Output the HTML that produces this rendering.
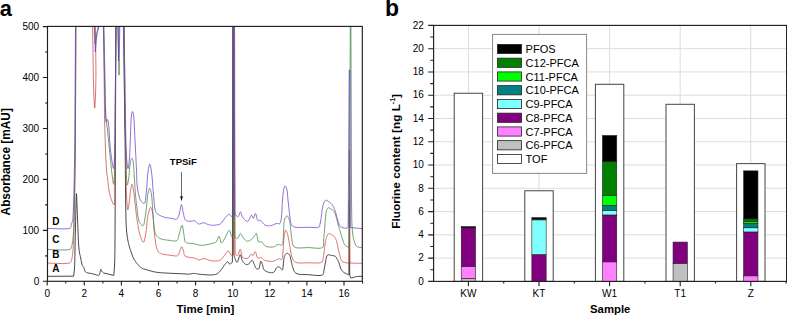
<!DOCTYPE html><html><head><meta charset="utf-8"><style>html,body{margin:0;padding:0;background:#fff;}svg{display:block;}text{font-family:"Liberation Sans",sans-serif;}</style></head><body>
<svg width="787" height="315" viewBox="0 0 787 315">
<rect width="787" height="315" fill="#fff"/>
<text x="-0.3" y="15.9" font-size="21.8" font-weight="bold">a</text>
<text x="384.9" y="15.9" font-size="23" font-weight="bold">b</text>
<defs><clipPath id="lc"><rect x="47.5" y="26.4" width="314.8" height="254.9"/></clipPath></defs>
<g clip-path="url(#lc)" fill="none" stroke-linejoin="round">
<polyline points="47.5,276.3 73.6,276.2 74.4,270 74.61,266.33 74.77,261.76 74.89,256.55 74.99,251.01 75.09,245.39 75.2,240 75.34,234.1 75.48,227.83 75.61,221.48 75.75,215.36 75.87,209.77 76,205 76.07,202.46 76.13,199.85 76.19,197.42 76.25,195.4 76.32,194.01 76.4,193.5 76.49,194.07 76.59,195.57 76.69,197.72 76.8,200.2 76.9,202.73 77,205 77.1,207.33 77.19,209.66 77.28,212.05 77.38,214.55 77.48,217.18 77.6,220 77.78,224.63 77.97,229.95 78.17,235.56 78.42,241.05 78.72,246 79.1,250 79.33,251.64 79.59,253.07 79.86,254.36 80.14,255.56 80.42,256.76 80.7,258 80.95,259.25 81.19,260.54 81.43,261.82 81.68,263.04 81.97,264.15 82.3,265.1 82.54,265.6 82.81,266.02 83.09,266.4 83.37,266.76 83.64,267.15 83.9,267.6 84.15,268.27 84.33,269.03 84.51,269.82 84.72,270.6 85.03,271.31 85.5,271.9 86.36,272.45 87.46,272.85 88.72,273.13 90.05,273.35 91.37,273.56 92.6,273.8 93.75,274.12 94.97,274.51 96.19,274.88 97.31,275.16 98.28,275.26 99,275.1 99.31,274.83 99.53,274.45 99.67,273.99 99.77,273.49 99.87,272.98 100,272.5 100.16,271.93 100.3,271.27 100.44,270.6 100.58,270 100.73,269.57 100.9,269.4 101.06,269.5 101.22,269.8 101.39,270.21 101.57,270.68 101.77,271.13 102,271.5 102.24,271.79 102.48,272.05 102.74,272.3 103.03,272.54 103.38,272.77 103.8,273 113.8,275.4 114.6,265 114.82,257.75 114.95,248.62 115.03,237.94 115.08,226.05 115.13,213.29 115.2,200 115.9,26.4 123.8,26.4 124.6,100 124.7,108.84 124.81,117.21 124.91,125.32 125.01,133.35 125.1,141.51 125.2,150 125.29,160.06 125.38,170.79 125.46,181.67 125.54,192.18 125.66,201.8 125.8,210 125.88,214.02 125.96,217.68 126.04,221.05 126.15,224.17 126.29,227.14 126.5,230 126.7,232.08 126.93,234.07 127.18,235.98 127.45,237.78 127.72,239.46 128,241 128.18,241.94 128.36,242.79 128.55,243.58 128.75,244.35 128.96,245.15 129.2,246 129.53,247.11 129.89,248.27 130.27,249.47 130.68,250.67 131.09,251.86 131.5,253 131.87,254.04 132.24,255.08 132.62,256.11 133.02,257.11 133.44,258.07 133.9,259 134.35,259.81 134.82,260.58 135.32,261.33 135.84,262.06 136.4,262.78 137,263.5 137.72,264.34 138.49,265.2 139.31,266.06 140.16,266.87 141.02,267.6 141.9,268.2 142.65,268.6 143.4,268.9 144.16,269.14 144.95,269.34 145.8,269.55 146.7,269.8 148.08,270.2 149.57,270.64 151.15,271.08 152.8,271.5 154.49,271.88 156.2,272.2 158.21,272.48 160.3,272.69 162.45,272.85 164.62,272.97 166.78,273.08 168.9,273.2 170.95,273.31 173.02,273.4 175.08,273.48 177.1,273.55 179.05,273.62 180.9,273.7 182.33,273.78 183.71,273.88 185.04,273.98 186.33,274.07 187.58,274.11 188.8,274.1 189.8,274.02 190.77,273.88 191.72,273.71 192.64,273.55 193.53,273.43 194.4,273.4 195.08,273.45 195.69,273.55 196.29,273.69 196.91,273.84 197.6,273.98 198.4,274.1 200.35,274.31 202.77,274.55 205.43,274.76 208.11,274.92 210.57,274.98 212.6,274.9 213.57,274.8 214.44,274.69 215.23,274.54 215.98,274.34 216.69,274.07 217.4,273.7 218.15,273.17 218.86,272.51 219.53,271.76 220.17,270.97 220.79,270.17 221.4,269.4 221.97,268.66 222.52,267.89 223.05,267.11 223.56,266.35 224.05,265.63 224.5,265 224.79,264.61 225.06,264.25 225.32,263.91 225.57,263.59 225.83,263.29 226.1,263 226.34,262.73 226.59,262.43 226.84,262.14 227.09,261.91 227.35,261.75 227.6,261.7 227.91,261.88 228.21,262.29 228.52,262.81 228.83,263.35 229.16,263.78 229.5,264 229.83,264 230.18,263.88 230.54,263.69 230.89,263.46 231.22,263.22 231.5,263 231.68,262.87 231.85,262.77 231.99,262.66 232.13,262.52 232.26,262.31 232.4,262 232.8,26.4 233.2,26.4 233.9,254 234.09,255.29 234.27,256.28 234.47,257.06 234.68,257.71 234.92,258.33 235.2,259 235.47,259.68 235.77,260.42 236.09,261.14 236.42,261.74 236.76,262.16 237.1,262.3 237.62,261.71 238.17,260.29 238.74,258.46 239.29,256.64 239.82,255.25 240.3,254.7 240.64,255.02 240.93,255.83 241.19,256.95 241.47,258.2 241.79,259.41 242.2,260.4 242.65,261.16 243.14,261.91 243.67,262.63 244.24,263.28 244.82,263.82 245.4,264.2 245.85,264.39 246.31,264.53 246.78,264.6 247.26,264.6 247.73,264.54 248.2,264.4 248.87,263.92 249.56,263.11 250.24,262.15 250.91,261.26 251.53,260.61 252.1,260.4 252.58,260.69 253.02,261.34 253.42,262.22 253.79,263.21 254.15,264.18 254.5,265 254.77,265.63 255.01,266.27 255.23,266.9 255.47,267.49 255.75,268 256.1,268.4 256.45,268.67 256.86,268.9 257.29,269.09 257.72,269.2 258.13,269.21 258.5,269.1 259.05,268.29 259.49,266.77 259.87,264.92 260.21,263.12 260.54,261.75 260.9,261.2 261.17,261.38 261.45,261.87 261.71,262.58 261.98,263.4 262.24,264.24 262.5,265 262.74,265.81 262.94,266.68 263.12,267.56 263.35,268.43 263.66,269.22 264.1,269.9 264.7,270.48 265.42,270.98 266.23,271.41 267.09,271.78 267.96,272.07 268.8,272.3 269.6,272.48 270.44,272.62 271.29,272.7 272.12,272.69 272.9,272.57 273.6,272.3 274.25,271.75 274.81,270.94 275.31,269.99 275.78,269.04 276.27,268.2 276.8,267.6 277.17,267.33 277.55,267.1 277.94,266.92 278.32,266.81 278.71,266.76 279.1,266.8 279.65,267.13 280.23,267.76 280.82,268.53 281.38,269.26 281.88,269.77 282.3,269.9 282.7,269.37 282.96,268.26 283.11,266.76 283.22,265.08 283.33,263.43 283.5,262 283.66,260.85 283.8,259.68 283.94,258.52 284.11,257.43 284.35,256.44 284.7,255.6 285.02,255.06 285.4,254.54 285.81,254.07 286.24,253.69 286.67,253.42 287.1,253.3 287.5,253.34 287.93,253.5 288.36,253.76 288.78,254.1 289.16,254.49 289.5,254.9 289.87,255.55 290.15,256.32 290.38,257.19 290.58,258.12 290.78,259.07 291,260 291.26,261.08 291.48,262.21 291.71,263.37 291.95,264.54 292.24,265.69 292.6,266.8 292.98,267.93 293.35,269.1 293.77,270.26 294.28,271.34 294.94,272.31 295.8,273.1 297.35,273.84 299.29,274.28 301.5,274.49 303.85,274.57 306.23,274.61 308.5,274.7 311.01,274.92 313.77,275.21 316.56,275.45 319.15,275.52 321.3,275.31 322.8,274.7 323.31,274.13 323.59,273.42 323.74,272.61 323.81,271.75 323.87,270.87 324,270 324.2,269 324.39,267.98 324.56,266.92 324.75,265.84 324.96,264.73 325.2,263.6 325.5,262.09 325.78,260.36 326.1,258.6 326.49,256.98 326.97,255.69 327.6,254.9 328.05,254.72 328.55,254.71 329.08,254.81 329.64,254.98 330.22,255.16 330.8,255.3 331.57,255.42 332.42,255.53 333.29,255.65 334.13,255.83 334.89,256.07 335.5,256.4 335.86,256.74 336.14,257.15 336.37,257.59 336.57,258.06 336.77,258.54 337,259 337.28,259.47 337.55,259.92 337.83,260.38 338.12,260.86 338.4,261.4 338.7,262 339.17,263.24 339.61,264.74 340.07,266.38 340.58,268.01 341.17,269.5 341.9,270.7 342.6,271.45 343.41,272.11 344.27,272.67 345.14,273.16 345.97,273.56 346.7,273.9 347.11,274.11 347.5,274.33 347.88,274.52 348.24,274.64 348.58,274.65 348.9,274.5 349.3,200 349.7,275 350.6,277.9 351.24,278.03 352.08,277.88 353.06,277.57 354.12,277.19 355.19,276.83 356.2,276.6 357.34,276.48 358.66,276.4 359.99,276.35 361.16,276.32 361.99,276.3 362.3,276.3" stroke="#262626" stroke-width="0.85"/>
<polyline points="47.5,263 48.92,263.09 52.54,263.27 57.39,263.46 62.48,263.55 66.84,263.43 69.5,263 69.9,262.81 70.21,262.6 70.44,262.37 70.63,262.12 70.81,261.83 71,261.5 71.28,260.93 71.51,260.26 71.7,259.52 71.88,258.72 72.04,257.88 72.2,257 72.42,255.71 72.61,254.33 72.77,252.86 72.93,251.31 73.07,249.69 73.2,248 73.36,245.66 73.49,243.21 73.61,240.63 73.71,237.91 73.8,235.04 73.9,232 74.04,227.38 74.16,222.41 74.28,217.13 74.39,211.6 74.49,205.87 74.6,200 74.73,192.57 74.86,184.98 74.97,177.09 75.09,168.73 75.2,159.75 75.3,150 76,26.4 92.6,26.4 93.4,80 93.58,85.87 93.79,92.16 94.02,98.19 94.25,103.31 94.48,106.87 94.7,108.2 94.92,106.77 95.16,103.01 95.39,97.68 95.61,91.55 95.78,85.4 95.9,80 95.95,75.01 95.95,69.94 95.9,64.83 95.83,59.77 95.76,54.8 95.7,50 95.4,26.4 103.5,26.4 104.6,120 104.85,129.73 105.13,139.41 105.44,148.66 105.77,157.09 106.12,164.33 106.5,170 106.66,171.71 106.81,173.09 106.97,174.28 107.14,175.41 107.32,176.61 107.5,178 107.75,180.23 108.01,182.7 108.28,185.29 108.58,187.87 108.91,190.32 109.3,192.5 109.61,193.92 109.95,195.26 110.3,196.52 110.68,197.72 111.08,198.88 111.5,200 111.9,201.03 112.34,202.16 112.8,203.25 113.25,204.18 113.66,204.8 114,205 114.43,204.12 114.66,201.89 114.74,198.6 114.74,194.51 114.74,189.88 114.8,185 115.8,26.4 124,26.4 125,100 125.14,108.92 125.27,117.48 125.41,125.77 125.54,133.89 125.67,141.93 125.8,150 125.89,157.92 125.96,166.09 126.01,174.18 126.1,181.91 126.26,188.95 126.5,195 126.68,198.26 126.89,201.58 127.12,204.68 127.36,207.27 127.62,209.04 127.9,209.7 128.15,209.22 128.41,207.95 128.69,206.13 128.97,204.03 129.24,201.9 129.5,200 129.76,198 130.01,195.84 130.25,193.65 130.48,191.53 130.73,189.61 131,188 131.16,187.17 131.32,186.33 131.48,185.55 131.65,184.9 131.82,184.46 132,184.3 132.24,184.57 132.5,185.29 132.76,186.33 133.03,187.55 133.28,188.82 133.5,190 133.75,191.46 133.95,192.99 134.13,194.61 134.3,196.31 134.49,198.1 134.7,200 135.04,202.97 135.4,206.27 135.79,209.76 136.2,213.3 136.63,216.76 137.1,220 137.51,222.7 137.93,225.38 138.36,228.01 138.84,230.52 139.38,232.87 140,235 140.53,236.55 141.13,238.18 141.75,239.73 142.38,241.03 142.97,241.9 143.5,242.2 144.02,241.67 144.48,240.36 144.9,238.5 145.29,236.33 145.65,234.09 146,232 146.39,229.35 146.69,226.41 146.95,223.35 147.23,220.32 147.56,217.49 148,215 148.38,213.35 148.8,211.63 149.25,209.99 149.71,208.62 150.17,207.66 150.6,207.3 150.93,207.49 151.27,208.02 151.6,208.81 151.91,209.79 152.22,210.88 152.5,212 152.98,214.86 153.33,218.52 153.6,222.67 153.86,227 154.17,231.21 154.6,235 154.99,238 155.37,241.06 155.78,244.04 156.28,246.79 156.94,249.16 157.8,251 158.38,251.77 159.01,252.39 159.69,252.89 160.42,253.31 161.19,253.66 162,254 163.01,254.33 164.11,254.55 165.26,254.69 166.46,254.8 167.67,254.89 168.9,255 170.38,255.22 172.01,255.52 173.66,255.81 175.23,255.98 176.62,255.95 177.7,255.6 178.28,255.08 178.7,254.38 179,253.56 179.26,252.68 179.5,251.81 179.8,251 180.12,250.18 180.45,249.24 180.76,248.3 181.08,247.49 181.39,246.92 181.7,246.7 182.01,246.92 182.32,247.48 182.63,248.29 182.94,249.22 183.23,250.16 183.5,251 183.71,251.82 183.83,252.7 183.94,253.59 184.1,254.45 184.4,255.23 184.9,255.9 186.11,256.62 187.8,257.1 189.75,257.43 191.78,257.69 193.66,257.95 195.2,258.3 195.96,258.59 196.63,258.92 197.24,259.26 197.84,259.56 198.44,259.78 199.1,259.9 199.85,259.85 200.6,259.63 201.37,259.34 202.17,259.03 203.01,258.79 203.9,258.7 205.21,258.86 206.62,259.26 208.11,259.79 209.62,260.33 211.14,260.77 212.6,261 213.99,261.05 215.42,261.04 216.84,260.94 218.21,260.73 219.48,260.39 220.6,259.9 221.43,259.3 222.15,258.55 222.78,257.7 223.38,256.81 223.97,255.92 224.6,255.1 225.23,254.28 225.86,253.35 226.49,252.43 227.11,251.64 227.72,251.09 228.3,250.9 228.84,251.21 229.35,251.96 229.85,252.94 230.35,253.96 230.86,254.81 231.4,255.3 231.78,255.44 232.17,255.54 232.56,255.57 232.96,255.5 233.34,255.32 233.7,255 234.2,26.4 234.6,26.4 235.1,251.5 235.3,252.55 235.49,253.42 235.69,254.11 235.92,254.64 236.18,255.03 236.5,255.3 236.74,255.4 237,255.45 237.29,255.44 237.57,255.38 237.85,255.27 238.1,255.1 238.55,254.38 238.94,253.17 239.29,251.75 239.62,250.4 239.95,249.39 240.3,249 240.67,249.54 240.97,250.9 241.27,252.73 241.63,254.67 242.12,256.38 242.8,257.5 243.47,257.96 244.26,258.28 245.12,258.47 246,258.54 246.84,258.48 247.6,258.3 248.34,257.81 249.03,256.98 249.69,256.01 250.31,255.08 250.88,254.38 251.4,254.1 251.69,254.21 251.94,254.5 252.18,254.87 252.42,255.23 252.65,255.51 252.9,255.6 253.29,255.28 253.7,254.53 254.11,253.59 254.52,252.66 254.92,251.96 255.3,251.7 255.7,252.14 256.04,253.21 256.37,254.6 256.73,256.05 257.15,257.28 257.7,258 258.16,258.13 258.67,258.07 259.22,257.89 259.78,257.7 260.35,257.57 260.9,257.6 261.54,257.88 262.15,258.33 262.76,258.89 263.41,259.47 264.11,260 264.9,260.4 266.15,260.78 267.6,261.07 269.15,261.26 270.73,261.36 272.24,261.34 273.6,261.2 274.63,260.91 275.63,260.44 276.58,259.9 277.49,259.38 278.33,258.98 279.1,258.8 279.57,258.87 280.01,259.07 280.42,259.32 280.81,259.55 281.17,259.67 281.5,259.6 282.01,258.88 282.36,257.57 282.6,255.84 282.77,253.89 282.92,251.88 283.1,250 283.32,247.75 283.48,245.3 283.62,242.78 283.76,240.31 283.94,238.01 284.2,236 284.41,234.75 284.63,233.45 284.87,232.23 285.12,231.2 285.4,230.49 285.7,230.2 285.98,230.35 286.28,230.8 286.6,231.47 286.91,232.28 287.22,233.15 287.5,234 287.89,235.42 288.22,237.04 288.53,238.81 288.83,240.68 289.14,242.59 289.5,244.5 289.93,246.88 290.35,249.49 290.8,252.16 291.3,254.72 291.89,256.99 292.6,258.8 293.03,259.61 293.46,260.31 293.92,260.91 294.44,261.44 295.05,261.9 295.8,262.3 297.38,262.77 299.33,262.99 301.55,263.03 303.9,262.97 306.25,262.86 308.5,262.8 310.9,262.84 313.51,262.94 316.14,263 318.56,262.93 320.59,262.62 322,262 322.46,261.5 322.74,260.92 322.9,260.26 322.99,259.55 323.07,258.79 323.2,258 323.44,256.75 323.65,255.35 323.84,253.85 324.03,252.31 324.21,250.78 324.4,249.3 324.58,247.87 324.74,246.42 324.91,244.97 325.08,243.56 325.27,242.22 325.5,241 325.68,240.17 325.88,239.39 326.08,238.64 326.3,237.94 326.54,237.26 326.8,236.6 327.04,236.01 327.28,235.39 327.54,234.78 327.82,234.25 328.14,233.84 328.5,233.6 328.86,233.55 329.27,233.64 329.7,233.81 330.14,234.04 330.58,234.28 331,234.5 331.43,234.71 331.86,234.93 332.29,235.17 332.71,235.43 333.11,235.7 333.5,236 333.87,236.31 334.23,236.63 334.58,236.98 334.91,237.35 335.22,237.75 335.5,238.2 335.82,238.86 336.1,239.59 336.34,240.38 336.56,241.23 336.77,242.1 337,243 337.3,244.21 337.58,245.52 337.86,246.89 338.13,248.27 338.41,249.62 338.7,250.9 338.96,251.98 339.21,253.04 339.47,254.08 339.74,255.09 340.01,256.06 340.3,257 340.52,257.78 340.71,258.56 340.91,259.32 341.15,260.03 341.47,260.66 341.9,261.2 342.53,261.66 343.32,262.02 344.19,262.3 345.09,262.51 345.95,262.68 346.7,262.8 347.17,262.9 347.61,263.03 348.03,263.13 348.44,263.16 348.83,263.06 349.2,262.8 349.5,150 349.9,263 355,263.2 356.31,263.23 357.88,263.25 359.48,263.27 360.9,263.29 361.91,263.3 362.3,263.3" stroke="#cf4545" stroke-width="0.75"/>
<polyline points="47.5,249.4 48.99,249.49 52.76,249.69 57.79,249.9 63.02,249.99 67.44,249.86 70,249.4 70.3,249.21 70.51,249.01 70.65,248.79 70.76,248.56 70.87,248.29 71,248 71.23,247.48 71.45,246.89 71.65,246.23 71.85,245.52 72.03,244.78 72.2,244 72.42,242.86 72.61,241.65 72.77,240.35 72.93,238.98 73.07,237.53 73.2,236 73.37,233.71 73.5,231.26 73.61,228.66 73.71,225.91 73.8,223.02 73.9,220 74.03,215.59 74.16,210.85 74.27,205.85 74.38,200.67 74.49,195.36 74.6,190 74.73,183.92 74.85,177.91 74.98,171.73 75.09,165.17 75.2,158.01 75.3,150 75.8,26.4 94.6,26.4 95.2,44 96.8,33 98.2,26.4 104,26.4 105,80 105.13,86.96 105.24,93.94 105.36,100.74 105.5,107.16 105.71,112.98 106,118 106.21,120.36 106.45,122.39 106.71,124.23 106.97,126.02 107.24,127.9 107.5,130 107.83,133.07 108.17,136.4 108.51,139.86 108.85,143.36 109.18,146.77 109.5,150 109.76,152.64 110.01,155.2 110.26,157.7 110.5,160.16 110.75,162.59 111,165 111.24,167.28 111.49,169.58 111.74,171.85 111.99,174.05 112.24,176.12 112.5,178 112.68,179.33 112.88,180.74 113.07,182.09 113.26,183.23 113.44,184.01 113.6,184.3 113.82,183.69 114.01,182.04 114.17,179.61 114.32,176.62 114.47,173.34 114.6,170 114.85,161.41 115.02,150.65 115.14,138.41 115.23,125.42 115.31,112.38 115.4,100 115.9,26.4 118.2,26.4 119,75.2 119.8,26.4 124.1,26.4 125.2,100 125.34,109.06 125.48,117.91 125.62,126.5 125.75,134.76 125.88,142.61 126,150 126.07,155.35 126.12,160.62 126.17,165.66 126.23,170.34 126.33,174.5 126.5,178 126.6,179.62 126.72,181.24 126.84,182.72 126.97,183.95 127.12,184.79 127.3,185.1 127.48,184.88 127.67,184.27 127.88,183.37 128.1,182.29 128.31,181.13 128.5,180 128.79,177.88 129.04,175.32 129.28,172.54 129.51,169.75 129.75,167.16 130,165 130.15,163.88 130.28,162.81 130.42,161.82 130.57,160.93 130.76,160.15 131,159.5 131.16,159.18 131.35,158.86 131.54,158.58 131.74,158.36 131.93,158.23 132.1,158.2 132.33,158.4 132.53,158.84 132.71,159.48 132.88,160.26 133.04,161.12 133.2,162 133.5,164.24 133.75,167.06 133.95,170.26 134.14,173.62 134.31,176.94 134.5,180 134.67,182.59 134.82,185.14 134.97,187.65 135.13,190.13 135.3,192.58 135.5,195 135.72,197.23 135.95,199.42 136.2,201.59 136.46,203.74 136.73,205.88 137,208 137.24,210.1 137.46,212.26 137.69,214.41 137.96,216.47 138.28,218.36 138.7,220 139.02,220.94 139.36,221.82 139.73,222.62 140.12,223.35 140.55,223.98 141,224.5 141.35,224.82 141.73,225.13 142.12,225.4 142.51,225.58 142.88,225.66 143.2,225.6 143.66,225.07 144.02,224.05 144.3,222.7 144.53,221.14 144.76,219.53 145,218 145.33,216.03 145.63,213.91 145.92,211.69 146.19,209.43 146.45,207.18 146.7,205 146.91,202.91 147.09,200.75 147.26,198.61 147.44,196.56 147.68,194.66 148,193 148.26,191.97 148.56,190.9 148.87,189.9 149.2,189.07 149.51,188.5 149.8,188.3 150.12,188.61 150.42,189.42 150.72,190.59 150.99,192 151.26,193.52 151.5,195 151.85,197.74 152.12,200.97 152.34,204.5 152.55,208.15 152.76,211.71 153,215 153.22,217.72 153.42,220.46 153.63,223.14 153.87,225.68 154.15,227.99 154.5,230 154.72,231.04 154.94,231.97 155.17,232.83 155.45,233.63 155.78,234.38 156.2,235.1 156.68,235.78 157.22,236.41 157.81,237.01 158.47,237.55 159.2,238.05 160,238.5 161.23,239 162.66,239.39 164.2,239.7 165.8,239.94 167.39,240.13 168.9,240.3 170.32,240.51 171.79,240.76 173.26,240.97 174.65,241.06 175.88,240.93 176.9,240.5 177.65,239.7 178.17,238.58 178.54,237.24 178.84,235.8 179.14,234.35 179.5,233 179.93,231.51 180.37,229.79 180.8,228.06 181.22,226.55 181.62,225.49 182,225.1 182.38,225.64 182.73,227.01 183.06,228.93 183.37,231.1 183.68,233.22 184,235 184.2,236.32 184.33,237.66 184.44,238.96 184.64,240.18 185,241.24 185.6,242.1 186.56,242.72 187.79,243.08 189.2,243.28 190.7,243.39 192.19,243.5 193.6,243.7 194.91,244 196.21,244.34 197.5,244.68 198.81,244.98 200.14,245.2 201.5,245.3 203.08,245.25 204.75,245.06 206.45,244.77 208.11,244.43 209.68,244.06 211.1,243.7 212.04,243.48 212.94,243.29 213.79,243.08 214.59,242.83 215.33,242.48 216,242 216.66,241.13 217.22,239.93 217.71,238.61 218.15,237.4 218.57,236.52 219,236.2 219.43,236.71 219.8,237.93 220.15,239.52 220.51,241.11 220.92,242.35 221.4,242.9 221.92,242.72 222.5,242.11 223.12,241.2 223.75,240.13 224.39,239.02 225,238 225.74,236.63 226.5,234.96 227.26,233.22 227.99,231.68 228.68,230.59 229.3,230.2 229.76,230.66 230.16,231.77 230.53,233.22 230.89,234.69 231.27,235.89 231.7,236.5 231.93,236.58 232.16,236.6 232.4,236.55 232.64,236.45 232.88,236.26 233.1,236 233.6,26.4 234,26.4 234.6,236 234.76,236.6 234.91,237.06 235.06,237.42 235.24,237.7 235.45,237.91 235.7,238.1 235.99,238.25 236.34,238.36 236.71,238.41 237.09,238.41 237.46,238.34 237.8,238.2 238.29,237.64 238.74,236.7 239.16,235.59 239.57,234.53 239.98,233.72 240.4,233.4 240.79,233.6 241.18,234.14 241.57,234.91 241.96,235.77 242.37,236.61 242.8,237.3 243.21,237.83 243.63,238.34 244.07,238.84 244.51,239.3 244.95,239.73 245.4,240.1 245.75,240.38 246.1,240.66 246.45,240.91 246.81,241.11 247.19,241.25 247.6,241.3 248.26,241.19 249.02,240.89 249.81,240.46 250.6,239.95 251.34,239.41 252,238.9 252.5,238.46 252.95,237.99 253.36,237.49 253.75,236.99 254.13,236.49 254.5,236 254.83,235.5 255.14,234.92 255.45,234.34 255.74,233.84 256.02,233.5 256.3,233.4 256.71,234.05 257.05,235.55 257.37,237.52 257.72,239.53 258.14,241.19 258.7,242.1 259.05,242.19 259.43,242.1 259.83,241.91 260.25,241.71 260.67,241.58 261.1,241.6 261.78,242.01 262.45,242.75 263.15,243.66 263.89,244.62 264.7,245.48 265.6,246.1 266.78,246.54 268.12,246.85 269.55,247.04 270.99,247.1 272.37,247.06 273.6,246.9 274.5,246.61 275.35,246.16 276.15,245.63 276.92,245.11 277.67,244.71 278.4,244.5 278.97,244.53 279.54,244.69 280.1,244.91 280.62,245.14 281.1,245.29 281.5,245.3 281.71,245.24 281.9,245.17 282.07,245.06 282.22,244.92 282.36,244.73 282.5,244.5 282.85,243.3 283.07,241.46 283.19,239.21 283.27,236.75 283.36,234.27 283.5,232 283.64,229.74 283.73,227.33 283.83,224.92 283.99,222.64 284.26,220.62 284.7,219 285.03,218.24 285.42,217.51 285.84,216.86 286.28,216.34 286.7,216 287.1,215.9 287.54,216.14 287.98,216.73 288.41,217.57 288.81,218.56 289.18,219.6 289.5,220.6 289.83,221.96 290.07,223.46 290.25,225.07 290.39,226.72 290.53,228.38 290.7,230 290.88,231.63 291.05,233.28 291.21,234.94 291.39,236.58 291.61,238.17 291.9,239.7 292.14,241.04 292.33,242.4 292.55,243.73 292.89,244.96 293.41,246.04 294.2,246.9 295.84,247.65 298.01,247.96 300.54,247.98 303.26,247.84 305.97,247.66 308.5,247.6 311.06,247.74 313.84,248 316.61,248.23 319.17,248.29 321.31,248.03 322.8,247.3 323.39,246.43 323.65,245.32 323.7,244.05 323.63,242.68 323.56,241.31 323.6,240 323.74,238.69 323.87,237.38 324,236.06 324.13,234.71 324.26,233.3 324.4,231.8 324.57,229.67 324.74,227.34 324.91,224.91 325.09,222.48 325.28,220.15 325.5,218 325.67,216.38 325.82,214.75 325.98,213.17 326.17,211.73 326.44,210.48 326.8,209.5 327.02,209.1 327.26,208.74 327.52,208.43 327.79,208.18 328.09,208 328.4,207.9 328.79,207.9 329.21,208.03 329.66,208.24 330.12,208.5 330.57,208.77 331,209 331.39,209.19 331.78,209.38 332.16,209.57 332.53,209.78 332.88,210.02 333.2,210.3 333.52,210.66 333.81,211.07 334.08,211.51 334.32,211.99 334.56,212.48 334.8,213 335.08,213.66 335.34,214.36 335.58,215.09 335.81,215.86 336.05,216.67 336.3,217.5 336.63,218.64 336.96,219.87 337.29,221.15 337.62,222.46 337.96,223.75 338.3,225 338.63,226.15 338.96,227.29 339.29,228.41 339.62,229.53 339.96,230.66 340.3,231.8 340.65,233 341,234.21 341.36,235.42 341.72,236.64 342.1,237.83 342.5,239 342.87,240.14 343.22,241.32 343.59,242.48 344,243.57 344.5,244.53 345.1,245.3 345.7,245.84 346.4,246.37 347.15,246.81 347.91,247.1 348.64,247.15 349.3,246.9 350.3,26.4 350.9,26.4 351.5,200 351.6,207.02 351.68,213.24 351.77,218.74 351.91,223.63 352.14,228.02 352.5,232 352.75,234.05 353.02,235.92 353.32,237.63 353.66,239.2 354.05,240.65 354.5,242 354.83,242.91 355.17,243.79 355.53,244.6 355.94,245.33 356.42,245.97 357,246.5 357.85,246.91 358.95,247.21 360.14,247.41 361.22,247.53 362,247.59 362.3,247.6" stroke="#3d833d" stroke-width="0.75"/>
<polyline points="47.5,228.4 48.99,228.47 52.76,228.63 57.78,228.79 62.98,228.87 67.34,228.76 69.8,228.4 70.03,228.28 70.2,228.16 70.32,228.02 70.41,227.87 70.5,227.7 70.6,227.5 70.78,227.06 70.94,226.51 71.08,225.9 71.21,225.26 71.35,224.61 71.5,224 71.68,223.44 71.87,222.91 72.07,222.37 72.26,221.81 72.44,221.2 72.6,220.5 72.8,219.15 72.95,217.65 73.05,215.99 73.13,214.17 73.21,212.17 73.3,210 73.49,205.35 73.68,199.85 73.85,193.78 74.02,187.43 74.17,181.07 74.3,175 74.41,169.4 74.51,164.08 74.59,158.75 74.66,153.15 74.73,146.99 74.8,140 75.5,26.4 94.3,26.4 94.8,40 95.3,52 96.5,38 96.72,36.5 96.96,35.04 97.22,33.66 97.48,32.34 97.75,31.12 98,30 99,26.4 103.4,26.4 104.4,70 104.55,77.04 104.7,84.33 104.85,91.57 105,98.46 105.18,104.71 105.4,110 105.51,112.68 105.6,115.38 105.7,117.89 105.83,119.98 106.02,121.43 106.3,122 106.48,121.83 106.68,121.37 106.89,120.76 107.11,120.14 107.32,119.68 107.5,119.5 107.7,119.71 107.89,120.23 108.05,120.99 108.2,121.93 108.35,122.95 108.5,124 108.8,126.66 109.05,130.04 109.28,133.85 109.5,137.8 109.73,141.61 110,145 110.23,147.38 110.47,149.68 110.72,151.89 110.98,154.02 111.24,156.05 111.5,158 111.71,159.5 111.93,160.98 112.15,162.41 112.37,163.75 112.59,164.95 112.8,166 112.92,166.56 113.04,167.13 113.16,167.66 113.28,168.1 113.39,168.4 113.5,168.5 113.73,167.9 113.94,166.32 114.12,163.99 114.3,161.17 114.45,158.09 114.6,155 114.84,148.08 114.99,139.71 115.08,130.32 115.15,120.3 115.21,110.06 115.3,100 116,26.4 117.8,26.4 118.5,61 119.2,26.4 123.4,26.4 124.3,90 124.41,97.31 124.5,104.36 124.58,111.16 124.69,117.7 124.82,123.98 125,130 125.17,134.59 125.34,139.05 125.54,143.34 125.76,147.44 126.01,151.34 126.3,155 126.55,157.84 126.82,160.89 127.11,163.82 127.41,166.31 127.71,168.05 128,168.7 128.26,168.2 128.52,166.87 128.79,164.95 129.05,162.66 129.29,160.27 129.5,158 129.75,154.66 129.94,150.92 130.08,146.95 130.21,142.87 130.35,138.84 130.5,135 130.64,131.39 130.76,127.62 130.88,123.88 131.02,120.39 131.22,117.36 131.5,115 131.65,114.16 131.81,113.35 131.98,112.62 132.15,112.04 132.33,111.64 132.5,111.5 132.67,111.64 132.84,112.02 133.01,112.6 133.18,113.33 133.35,114.14 133.5,115 133.85,117.81 134.13,121.55 134.36,125.93 134.57,130.65 134.78,135.44 135,140 135.27,144.96 135.54,150.18 135.81,155.47 136.06,160.66 136.3,165.56 136.5,170 136.6,172.83 136.66,175.47 136.72,177.97 136.79,180.37 136.9,182.7 137.1,185 137.33,186.99 137.6,188.97 137.9,190.89 138.23,192.73 138.6,194.45 139,196 139.28,196.99 139.55,197.92 139.85,198.79 140.17,199.59 140.55,200.33 141,201 141.48,201.59 142.05,202.19 142.65,202.74 143.26,203.18 143.82,203.42 144.3,203.4 144.96,202.52 145.43,200.71 145.76,198.26 146.01,195.47 146.24,192.62 146.5,190 146.8,187.07 147.03,183.92 147.23,180.7 147.43,177.54 147.68,174.59 148,172 148.26,170.33 148.56,168.57 148.87,166.91 149.18,165.52 149.5,164.56 149.8,164.2 150.09,164.55 150.39,165.49 150.68,166.86 150.97,168.51 151.24,170.27 151.5,172 151.9,175.19 152.25,178.97 152.58,183.09 152.88,187.3 153.18,191.35 153.5,195 153.73,197.63 153.95,200.25 154.15,202.76 154.39,205.11 154.66,207.21 155,209 155.2,209.84 155.39,210.58 155.6,211.26 155.84,211.88 156.13,212.45 156.5,213 156.96,213.51 157.48,213.98 158.07,214.4 158.69,214.78 159.34,215.15 160,215.5 160.75,215.87 161.54,216.2 162.37,216.51 163.22,216.79 164.1,217.05 165,217.3 166.11,217.56 167.28,217.79 168.49,217.99 169.71,218.17 170.89,218.34 172,218.5 172.89,218.68 173.79,218.93 174.66,219.16 175.48,219.32 176.24,219.32 176.9,219.1 177.53,218.52 178.04,217.65 178.46,216.58 178.82,215.39 179.16,214.17 179.5,213 179.88,211.49 180.22,209.69 180.52,207.85 180.81,206.21 181.1,205.05 181.4,204.6 181.71,205.04 182.01,206.18 182.32,207.79 182.63,209.63 182.95,211.44 183.3,213 183.61,214.33 183.89,215.73 184.18,217.11 184.53,218.39 184.99,219.48 185.6,220.3 186.2,220.72 186.89,220.98 187.64,221.14 188.43,221.22 189.23,221.26 190,221.3 190.8,221.26 191.62,221.11 192.45,220.92 193.27,220.76 194.06,220.69 194.8,220.8 195.48,221.17 196.1,221.75 196.7,222.44 197.29,223.11 197.91,223.67 198.6,224 199.39,224.03 200.23,223.82 201.11,223.49 201.99,223.14 202.87,222.87 203.7,222.8 204.44,222.94 205.16,223.2 205.86,223.54 206.56,223.9 207.27,224.24 208,224.5 208.75,224.7 209.52,224.88 210.29,225.04 211.06,225.17 211.83,225.25 212.6,225.3 213.34,225.3 214.09,225.25 214.84,225.17 215.57,225.06 216.3,224.93 217,224.8 217.63,224.69 218.24,224.61 218.84,224.5 219.43,224.35 220.02,224.13 220.6,223.8 221.43,223.05 222.24,222.03 223.03,220.85 223.81,219.62 224.6,218.47 225.4,217.5 226.06,216.79 226.74,216.06 227.41,215.38 228.08,214.81 228.71,214.43 229.3,214.3 229.75,214.49 230.17,214.92 230.58,215.48 230.96,216.04 231.34,216.49 231.7,216.7 231.93,216.72 232.16,216.7 232.38,216.63 232.59,216.49 232.8,216.29 233,216 233.5,26.4 233.9,26.4 234.8,212 234.92,212.82 235.02,213.46 235.13,213.95 235.27,214.36 235.45,214.72 235.7,215.1 236.02,215.49 236.41,215.89 236.84,216.25 237.29,216.54 237.72,216.7 238.1,216.7 238.55,216.25 238.95,215.34 239.32,214.2 239.68,213.08 240.03,212.23 240.4,211.9 240.78,212.21 241.12,213.01 241.46,214.11 241.83,215.35 242.26,216.54 242.8,217.5 243.47,218.36 244.26,219.27 245.12,220.13 245.99,220.84 246.84,221.3 247.6,221.4 248.37,220.84 249.11,219.64 249.81,218.14 250.46,216.65 251.06,215.53 251.6,215.1 251.92,215.35 252.19,215.95 252.44,216.72 252.68,217.48 252.93,218.07 253.2,218.3 253.56,217.94 253.95,217.04 254.34,215.88 254.74,214.72 255.13,213.84 255.5,213.5 255.89,213.99 256.24,215.2 256.58,216.79 256.94,218.44 257.37,219.82 257.9,220.6 258.25,220.7 258.63,220.64 259.03,220.5 259.45,220.34 259.87,220.25 260.3,220.3 261.03,220.77 261.78,221.57 262.56,222.56 263.37,223.58 264.22,224.48 265.1,225.1 265.92,225.43 266.78,225.64 267.67,225.76 268.57,225.81 269.48,225.78 270.4,225.7 271.47,225.47 272.6,225.07 273.74,224.58 274.85,224.1 275.89,223.71 276.8,223.5 277.31,223.51 277.79,223.61 278.24,223.75 278.66,223.87 279.05,223.91 279.4,223.8 279.78,223.47 280.09,223 280.35,222.4 280.58,221.68 280.79,220.88 281,220 281.41,217.53 281.69,214.33 281.89,210.68 282.07,206.88 282.25,203.22 282.5,200 282.72,197.71 282.94,195.4 283.16,193.18 283.41,191.14 283.68,189.38 284,188 284.15,187.49 284.3,187.01 284.46,186.58 284.63,186.23 284.81,186 285,185.9 285.23,185.97 285.48,186.19 285.75,186.54 286.02,186.97 286.27,187.47 286.5,188 286.89,189.37 287.17,191.13 287.38,193.17 287.57,195.4 287.76,197.71 288,200 288.37,203.22 288.76,206.87 289.17,210.67 289.57,214.31 289.95,217.52 290.3,220 290.42,220.82 290.52,221.52 290.61,222.14 290.72,222.71 290.88,223.25 291.1,223.8 291.36,224.35 291.63,224.89 291.94,225.41 292.32,225.89 292.8,226.33 293.4,226.7 295.14,227.22 297.5,227.46 300.25,227.51 303.16,227.44 305.98,227.34 308.5,227.3 310.47,227.37 312.51,227.5 314.5,227.61 316.31,227.61 317.82,227.44 318.9,227 319.28,226.63 319.52,226.2 319.67,225.7 319.77,225.17 319.87,224.6 320,224 320.23,223.08 320.44,222.07 320.64,220.99 320.82,219.86 321.01,218.69 321.2,217.5 321.41,216 321.61,214.39 321.79,212.74 321.99,211.09 322.22,209.49 322.5,208 322.76,206.79 323.03,205.58 323.33,204.4 323.65,203.31 324.01,202.36 324.4,201.6 324.64,201.25 324.89,200.93 325.14,200.65 325.41,200.43 325.7,200.28 326,200.2 326.37,200.23 326.78,200.38 327.2,200.61 327.63,200.9 328.07,201.2 328.5,201.5 329.02,201.84 329.54,202.2 330.08,202.58 330.6,203.01 331.11,203.48 331.6,204 332.19,204.76 332.75,205.63 333.3,206.57 333.81,207.55 334.28,208.54 334.7,209.5 335.04,210.4 335.33,211.31 335.58,212.23 335.82,213.15 336.05,214.08 336.3,215 336.57,215.94 336.83,216.89 337.09,217.84 337.35,218.79 337.62,219.71 337.9,220.6 338.15,221.39 338.4,222.18 338.65,222.96 338.91,223.7 339.19,224.39 339.5,225 339.72,225.41 339.93,225.8 340.15,226.15 340.41,226.47 340.71,226.76 341.1,227 341.99,227.41 343.15,227.82 344.45,228.13 345.81,228.22 347.09,227.98 348.2,227.3 349.2,70 349.8,70 350.4,227.5 355,228 356.29,228.12 357.85,228.25 359.46,228.38 360.89,228.49 361.91,228.57 362.3,228.6" stroke="#6e3cc8" stroke-width="0.75"/>
</g>
<rect x="47.5" y="26.4" width="314.8" height="254.9" fill="none" stroke="#1e1e1e" stroke-width="1.15"/>
<path d="M47.5,281.3H42.9M47.5,255.83H45.1M47.5,230.36H42.9M47.5,204.89H45.1M47.5,179.42H42.9M47.5,153.95H45.1M47.5,128.48H42.9M47.5,103.01H45.1M47.5,77.54H42.9M47.5,52.07H45.1M47.5,26.6H42.9M47.2,281.3V285.5M65.75,281.3V283.5M84.3,281.3V285.5M102.85,281.3V283.5M121.4,281.3V285.5M139.95,281.3V283.5M158.5,281.3V285.5M177.05,281.3V283.5M195.6,281.3V285.5M214.15,281.3V283.5M232.7,281.3V285.5M251.25,281.3V283.5M269.8,281.3V285.5M288.35,281.3V283.5M306.9,281.3V285.5M325.45,281.3V283.5M344,281.3V285.5M362.55,281.3V283.5" stroke="#1e1e1e" stroke-width="1.1" fill="none"/>
<text x="39.2" y="285.15" font-size="10" text-anchor="end">0</text>
<text x="39.2" y="234.21" font-size="10" text-anchor="end">100</text>
<text x="39.2" y="183.27" font-size="10" text-anchor="end">200</text>
<text x="39.2" y="132.33" font-size="10" text-anchor="end">300</text>
<text x="39.2" y="81.39" font-size="10" text-anchor="end">400</text>
<text x="39.2" y="30.45" font-size="10" text-anchor="end">500</text>
<text x="47.2" y="297.4" font-size="10" text-anchor="middle">0</text>
<text x="84.3" y="297.4" font-size="10" text-anchor="middle">2</text>
<text x="121.4" y="297.4" font-size="10" text-anchor="middle">4</text>
<text x="158.5" y="297.4" font-size="10" text-anchor="middle">6</text>
<text x="195.6" y="297.4" font-size="10" text-anchor="middle">8</text>
<text x="232.7" y="297.4" font-size="10" text-anchor="middle">10</text>
<text x="269.8" y="297.4" font-size="10" text-anchor="middle">12</text>
<text x="306.9" y="297.4" font-size="10" text-anchor="middle">14</text>
<text x="344" y="297.4" font-size="10" text-anchor="middle">16</text>
<text x="205.4" y="312.9" font-size="11.45" font-weight="bold" text-anchor="middle">Time [min]</text>
<text transform="translate(9.6,161.8) rotate(-90)" font-size="11.85" font-weight="bold" text-anchor="middle">Absorbance [mAU]</text>
<text x="52.3" y="224.7" font-size="10" font-weight="bold">D</text>
<text x="52.3" y="243.1" font-size="10" font-weight="bold">C</text>
<text x="52.3" y="257.9" font-size="10" font-weight="bold">B</text>
<text x="52.3" y="271.6" font-size="10" font-weight="bold">A</text>
<text x="183.3" y="165" font-size="9.5" font-weight="bold" text-anchor="middle">TPSiF</text>
<path d="M181.5,172.2V198" stroke="#333" stroke-width="0.75"/>
<path d="M180.1,196.2L181.5,201.3L182.9,196.2Z" fill="#111"/>
<path d="M433.6,258.13H786.6M433.6,234.86H786.6M433.6,211.58H786.6M433.6,188.31H786.6M433.6,165.04H786.6M433.6,141.77H786.6M433.6,118.5H786.6M433.6,95.22H786.6M433.6,71.95H786.6M433.6,48.68H786.6M468.4,25.4V281.4M539,25.4V281.4M609.6,25.4V281.4M680.2,25.4V281.4M750.8,25.4V281.4" stroke="#dcdcdc" stroke-width="1" fill="none"/>
<rect x="454.2" y="93.25" width="28.4" height="188.15" fill="#fff" stroke="#444" stroke-width="1"/>
<rect x="461.25" y="278.37" width="14.3" height="3.03" fill="#c0c0c0" stroke="#222" stroke-width="0.6"/>
<rect x="461.25" y="266.39" width="14.3" height="11.99" fill="#ff80ff" stroke="#222" stroke-width="0.6"/>
<rect x="461.25" y="227.87" width="14.3" height="38.52" fill="#800080" stroke="#222" stroke-width="0.6"/>
<rect x="461.25" y="226.59" width="14.3" height="1.28" fill="#000000" stroke="#222" stroke-width="0.6"/>
<rect x="524.8" y="190.76" width="28.4" height="90.64" fill="#fff" stroke="#444" stroke-width="1"/>
<rect x="531.85" y="254.52" width="14.3" height="26.88" fill="#800080" stroke="#222" stroke-width="0.6"/>
<rect x="531.85" y="219.85" width="14.3" height="34.68" fill="#80ffff" stroke="#222" stroke-width="0.6"/>
<rect x="531.85" y="219.03" width="14.3" height="0.81" fill="#008000" stroke="#222" stroke-width="0.6"/>
<rect x="531.85" y="217.63" width="14.3" height="1.4" fill="#000000" stroke="#222" stroke-width="0.6"/>
<rect x="595.4" y="84.29" width="28.4" height="197.11" fill="#fff" stroke="#444" stroke-width="1"/>
<rect x="602.45" y="261.85" width="14.3" height="19.55" fill="#ff80ff" stroke="#222" stroke-width="0.6"/>
<rect x="602.45" y="214.96" width="14.3" height="46.89" fill="#800080" stroke="#222" stroke-width="0.6"/>
<rect x="602.45" y="210.42" width="14.3" height="4.54" fill="#80ffff" stroke="#222" stroke-width="0.6"/>
<rect x="602.45" y="205.42" width="14.3" height="5" fill="#008080" stroke="#222" stroke-width="0.6"/>
<rect x="602.45" y="195.64" width="14.3" height="9.77" fill="#00ff00" stroke="#222" stroke-width="0.6"/>
<rect x="602.45" y="161.67" width="14.3" height="33.98" fill="#008000" stroke="#222" stroke-width="0.6"/>
<rect x="602.45" y="135.48" width="14.3" height="26.18" fill="#000000" stroke="#222" stroke-width="0.6"/>
<rect x="666" y="104.3" width="28.4" height="177.1" fill="#fff" stroke="#444" stroke-width="1"/>
<rect x="673.05" y="263.25" width="14.3" height="18.15" fill="#c0c0c0" stroke="#222" stroke-width="0.6"/>
<rect x="673.05" y="242.07" width="14.3" height="21.18" fill="#800080" stroke="#222" stroke-width="0.6"/>
<rect x="736.6" y="163.64" width="28.4" height="117.76" fill="#fff" stroke="#444" stroke-width="1"/>
<rect x="743.65" y="275.81" width="14.3" height="5.59" fill="#ff80ff" stroke="#222" stroke-width="0.6"/>
<rect x="743.65" y="231.95" width="14.3" height="43.87" fill="#800080" stroke="#222" stroke-width="0.6"/>
<rect x="743.65" y="227.76" width="14.3" height="4.19" fill="#80ffff" stroke="#222" stroke-width="0.6"/>
<rect x="743.65" y="223.22" width="14.3" height="4.54" fill="#008080" stroke="#222" stroke-width="0.6"/>
<rect x="743.65" y="221.47" width="14.3" height="1.75" fill="#00ff00" stroke="#222" stroke-width="0.6"/>
<rect x="743.65" y="218.91" width="14.3" height="2.56" fill="#008000" stroke="#222" stroke-width="0.6"/>
<rect x="743.65" y="170.86" width="14.3" height="48.06" fill="#000000" stroke="#222" stroke-width="0.6"/>
<rect x="492.6" y="34.4" width="94" height="139" fill="#fff" stroke="#888" stroke-width="1"/>
<rect x="497.5" y="44.4" width="24" height="9.2" fill="#000000" stroke="#222" stroke-width="0.8"/>
<text x="525.6" y="53" font-size="11">PFOS</text>
<rect x="497.5" y="58.15" width="24" height="9.2" fill="#008000" stroke="#222" stroke-width="0.8"/>
<text x="525.6" y="66.75" font-size="11">C12-PFCA</text>
<rect x="497.5" y="71.9" width="24" height="9.2" fill="#00ff00" stroke="#222" stroke-width="0.8"/>
<text x="525.6" y="80.5" font-size="11">C11-PFCA</text>
<rect x="497.5" y="85.65" width="24" height="9.2" fill="#008080" stroke="#222" stroke-width="0.8"/>
<text x="525.6" y="94.25" font-size="11">C10-PFCA</text>
<rect x="497.5" y="99.4" width="24" height="9.2" fill="#80ffff" stroke="#222" stroke-width="0.8"/>
<text x="525.6" y="108" font-size="11">C9-PFCA</text>
<rect x="497.5" y="113.15" width="24" height="9.2" fill="#800080" stroke="#222" stroke-width="0.8"/>
<text x="525.6" y="121.75" font-size="11">C8-PFCA</text>
<rect x="497.5" y="126.9" width="24" height="9.2" fill="#ff80ff" stroke="#222" stroke-width="0.8"/>
<text x="525.6" y="135.5" font-size="11">C7-PFCA</text>
<rect x="497.5" y="140.65" width="24" height="9.2" fill="#c0c0c0" stroke="#222" stroke-width="0.8"/>
<text x="525.6" y="149.25" font-size="11">C6-PFCA</text>
<rect x="497.5" y="154.4" width="24" height="9.2" fill="#ffffff" stroke="#222" stroke-width="0.8"/>
<text x="525.6" y="163" font-size="11">TOF</text>
<rect x="433.6" y="25.4" width="353" height="256" fill="none" stroke="#1e1e1e" stroke-width="1.15"/>
<path d="M433.6,281.4H428.2M433.6,269.76H430.3M433.6,258.13H428.2M433.6,246.49H430.3M433.6,234.86H428.2M433.6,223.22H430.3M433.6,211.58H428.2M433.6,199.95H430.3M433.6,188.31H428.2M433.6,176.68H430.3M433.6,165.04H428.2M433.6,153.4H430.3M433.6,141.77H428.2M433.6,130.13H430.3M433.6,118.5H428.2M433.6,106.86H430.3M433.6,95.22H428.2M433.6,83.59H430.3M433.6,71.95H428.2M433.6,60.32H430.3M433.6,48.68H428.2M433.6,37.04H430.3M433.6,25.41H428.2M468.4,281.4V286.2M539,281.4V286.2M609.6,281.4V286.2M680.2,281.4V286.2M750.8,281.4V286.2M503.7,281.4V283.6M574.3,281.4V283.6M644.9,281.4V283.6M715.5,281.4V283.6M786.1,281.4V283.6" stroke="#1e1e1e" stroke-width="1.1" fill="none"/>
<text x="423.8" y="284.6" font-size="10" text-anchor="end">0</text>
<text x="423.8" y="261.33" font-size="10" text-anchor="end">2</text>
<text x="423.8" y="238.06" font-size="10" text-anchor="end">4</text>
<text x="423.8" y="214.78" font-size="10" text-anchor="end">6</text>
<text x="423.8" y="191.51" font-size="10" text-anchor="end">8</text>
<text x="423.8" y="168.24" font-size="10" text-anchor="end">10</text>
<text x="423.8" y="144.97" font-size="10" text-anchor="end">12</text>
<text x="423.8" y="121.7" font-size="10" text-anchor="end">14</text>
<text x="423.8" y="98.42" font-size="10" text-anchor="end">16</text>
<text x="423.8" y="75.15" font-size="10" text-anchor="end">18</text>
<text x="423.8" y="51.88" font-size="10" text-anchor="end">20</text>
<text x="423.8" y="28.61" font-size="10" text-anchor="end">22</text>
<text x="468.4" y="297.0" font-size="10" text-anchor="middle">KW</text>
<text x="539" y="297.0" font-size="10" text-anchor="middle">KT</text>
<text x="609.6" y="297.0" font-size="10" text-anchor="middle">W1</text>
<text x="680.2" y="297.0" font-size="10" text-anchor="middle">T1</text>
<text x="750.8" y="297.0" font-size="10" text-anchor="middle">Z</text>
<text x="610.2" y="312.9" font-size="11.35" font-weight="bold" text-anchor="middle">Sample</text>
<text transform="translate(400.1,161.3) rotate(-90)" font-size="11.8" font-weight="bold" text-anchor="middle">Fluorine content [ng L<tspan font-size="7" dy="-5.5">-1</tspan><tspan dy="5.5">]</tspan></text>
</svg></body></html>
